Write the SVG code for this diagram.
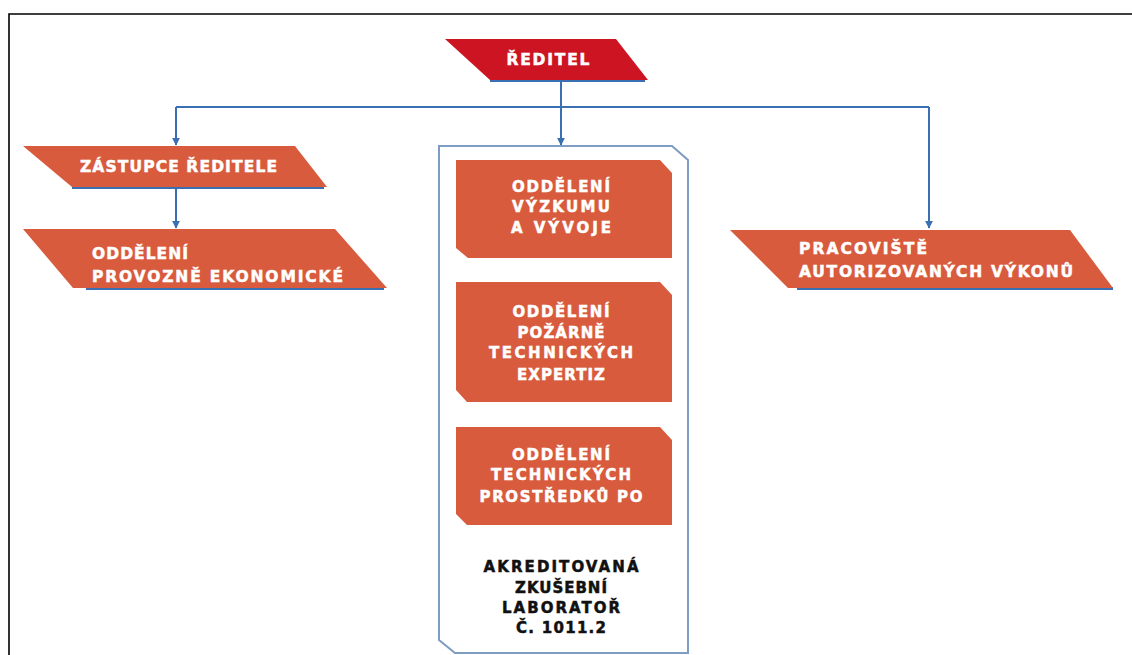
<svg xmlns="http://www.w3.org/2000/svg" width="1132" height="655" viewBox="0 0 1132 655">
  <defs>
    <marker id="arrow" viewBox="0 0 10 10" refX="9" refY="5" markerWidth="8" markerHeight="8" markerUnits="userSpaceOnUse" orient="auto">
      <path d="M0,0 L10,5 L0,10 z" fill="#3a6fb2"/>
    </marker>
  </defs>
  <style>
    .wire { fill: none; stroke: #3a6fb2; stroke-width: 2; }
    .red { fill: #cc1422; }
    .orange { fill: #d85b3d; }
    .underline { fill: #3a6fb2; }
    .frame { fill: none; stroke: #7f9cc2; stroke-width: 2; }
    .lbl { font-family: "DejaVu Sans", "Liberation Sans", sans-serif; font-weight: 700; fill: #ffffff; stroke: #ffffff; stroke-width: 0.5; font-size: 15px; }
    .big { font-size: 15.5px; }
    .mid { text-anchor: middle; }
    .dark { fill: #111111; stroke: #111111; }
  </style>

  <rect width="1132" height="655" fill="#ffffff"/>
  <!-- page border (top and left edges only) -->
  <path d="M9,655 V14 H1132" fill="none" stroke="#000000" stroke-width="1.6"/>

  <g id="connectors">
    <path class="wire" d="M561,80 V107"/>
    <path class="wire" d="M176,107 H929"/>
    <path class="wire" d="M176,107 V145" marker-end="url(#arrow)"/>
    <path class="wire" d="M561,107 V145" marker-end="url(#arrow)"/>
    <path class="wire" d="M929,107 V228" marker-end="url(#arrow)"/>
    <path class="wire" d="M176,188 V228" marker-end="url(#arrow)"/>
  </g>

  <g id="reditel">
    <rect class="underline" x="490" y="79" width="155" height="3"/>
    <polygon class="red" points="445,39 616,39 648,80 490,80"/>
    <text class="lbl big mid" x="548" y="65" textLength="83" lengthAdjust="spacing">ŘEDITEL</text>
  </g>

  <g id="zastupce">
    <rect class="underline" x="72" y="186" width="252" height="3"/>
    <polygon class="orange" points="23,146 295,146 327,187 72,187"/>
    <text class="lbl big" x="80" y="172" textLength="197" lengthAdjust="spacing">ZÁSTUPCE ŘEDITELE</text>
  </g>

  <g id="provozni">
    <rect class="underline" x="86" y="287" width="298" height="3"/>
    <polygon class="orange" points="23,229 335,229 387,288 73,288"/>
    <text class="lbl big" x="92" y="259" textLength="96" lengthAdjust="spacing">ODDĚLENÍ</text>
    <text class="lbl big" x="92" y="282" textLength="251" lengthAdjust="spacing">PROVOZNĚ EKONOMICKÉ</text>
  </g>

  <g id="pracoviste">
    <rect class="underline" x="797" y="287" width="316" height="3"/>
    <polygon class="orange" points="730,230 1070,230 1113,288 788,288"/>
    <text class="lbl big" x="799" y="254" textLength="128" lengthAdjust="spacing">PRACOVIŠTĚ</text>
    <text class="lbl big" x="799" y="277" textLength="274" lengthAdjust="spacing">AUTORIZOVANÝCH VÝKONŮ</text>
  </g>

  <g id="laborator">
    <polygon class="frame" points="439,146 672,146 688,160 688,653 455,653 439,640"/>
    <text class="lbl mid dark" x="561" y="572" textLength="155" lengthAdjust="spacing">AKREDITOVANÁ</text>
    <text class="lbl mid dark" x="561" y="593" textLength="92" lengthAdjust="spacing">ZKUŠEBNÍ</text>
    <text class="lbl mid dark" x="561" y="613" textLength="118" lengthAdjust="spacing">LABORATOŘ</text>
    <text class="lbl mid dark" x="561" y="633" textLength="90" lengthAdjust="spacing">Č. 1011.2</text>
  </g>

  <g id="vyzkum">
    <polygon class="orange" points="456,160 660,160 672,173 672,258 468,258 456,248"/>
    <text class="lbl mid" x="561" y="192" textLength="98" lengthAdjust="spacing">ODDĚLENÍ</text>
    <text class="lbl mid" x="561" y="212" textLength="98" lengthAdjust="spacing">VÝZKUMU</text>
    <text class="lbl mid" x="561" y="233" textLength="100" lengthAdjust="spacing">A VÝVOJE</text>
  </g>

  <g id="expertizy">
    <polygon class="orange" points="456,282 660,282 672,295 672,402 467,402 456,390"/>
    <text class="lbl mid" x="561" y="317" textLength="97" lengthAdjust="spacing">ODDĚLENÍ</text>
    <text class="lbl mid" x="561" y="338" textLength="87" lengthAdjust="spacing">POŽÁRNĚ</text>
    <text class="lbl mid" x="561" y="358" textLength="144" lengthAdjust="spacing">TECHNICKÝCH</text>
    <text class="lbl mid" x="561" y="380" textLength="88" lengthAdjust="spacing">EXPERTIZ</text>
  </g>

  <g id="prostredky">
    <polygon class="orange" points="456,427 660,427 672,440 672,525 467,525 456,514"/>
    <text class="lbl mid" x="561" y="460" textLength="98" lengthAdjust="spacing">ODDĚLENÍ</text>
    <text class="lbl mid" x="561" y="480" textLength="140" lengthAdjust="spacing">TECHNICKÝCH</text>
    <text class="lbl mid" x="561" y="502" textLength="163" lengthAdjust="spacing">PROSTŘEDKŮ PO</text>
  </g>
</svg>
